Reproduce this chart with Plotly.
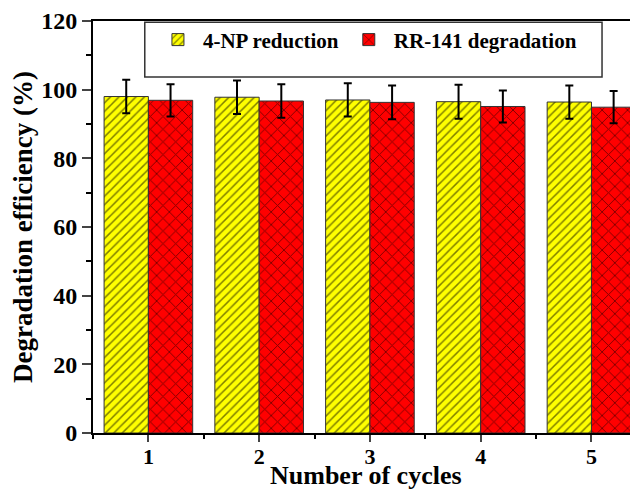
import plotly.graph_objects as go

cycles = [1, 2, 3, 4, 5]
np_reduction = [98.0, 97.8, 97.0, 96.5, 96.4]
np_err = [4.9, 4.9, 4.85, 4.95, 4.85]
rr_degradation = [96.9, 96.7, 96.3, 95.1, 94.9]
rr_err = [4.7, 4.85, 4.95, 4.65, 4.7]
y_ticks = [0, 20, 40, 60, 80, 100, 120]

FONT = "Liberation Serif"

fig = go.Figure()
fig.add_trace(go.Bar(
    x=cycles, y=np_reduction, name="4-NP reduction",
    marker=dict(color="#FFFF00", line=dict(color="#333333", width=1),
                pattern=dict(shape="/", fgcolor="black", bgcolor="#FFFF00", size=6, solidity=0.25)),
    error_y=dict(type="data", array=np_err, color="black", thickness=2, width=4),
))
fig.add_trace(go.Bar(
    x=cycles, y=rr_degradation, name="RR-141 degradation",
    marker=dict(color="#FF0000", line=dict(color="#333333", width=1),
                pattern=dict(shape="x", fgcolor="black", bgcolor="#FF0000", size=9, solidity=0.2)),
    error_y=dict(type="data", array=rr_err, color="black", thickness=2, width=4),
))

fig.update_layout(
    width=630, height=484,
    margin=dict(l=85, r=0, t=13, b=59),
    paper_bgcolor="white", plot_bgcolor="white",
    barmode="group", bargap=0.2, bargroupgap=0,
    font=dict(family=FONT, color="black", size=22, weight="bold"),
    showlegend=True,
    legend=dict(orientation="h", x=0.11, y=0.954, xanchor="left", yanchor="middle",
                font=dict(family=FONT, size=21, weight="bold", color="black"),
                bgcolor="rgba(0,0,0,0)", itemwidth=40, traceorder="normal"),
    xaxis=dict(range=[0.5, 5.42], tickvals=cycles, ticks="outside", ticklen=7, tickwidth=2,
               showline=True, linecolor="black", linewidth=2, mirror=True,
               showgrid=False, zeroline=False, automargin=False, ticklabelstandoff=-4,
               tickfont=dict(family=FONT, size=22, weight="bold"),
               minor=dict(dtick=0.5, tick0=0.5, ticks="outside", ticklen=4, tickwidth=2, tickcolor="black")),
    yaxis=dict(range=[0, 120], tickvals=y_ticks, ticks="outside", ticklen=9, tickwidth=2,
               showline=True, linecolor="black", linewidth=2, mirror=False,
               showgrid=False, zeroline=False, automargin=False,
               tickfont=dict(family=FONT, size=24, weight="bold"),
               minor=dict(dtick=10, ticks="outside", ticklen=5, tickwidth=2, tickcolor="black"),
               title=dict(text="Degradation efficiency (%)", font=dict(family=FONT, size=27, weight="bold"), standoff=8)),
    annotations=[dict(text="Number of cycles", xref="paper", yref="paper", x=0.5, y=-0.103,
                      xanchor="center", yanchor="middle", showarrow=False,
                      font=dict(family=FONT, size=26, weight="bold", color="black"))],
    shapes=[dict(type="rect", xref="paper", yref="paper", x0=0.095, x1=0.934, y0=0.864, y1=0.997,
                 line=dict(color="#333333", width=1.5), fillcolor="rgba(0,0,0,0)", layer="above")],
)

fig.write_html("out.html")
